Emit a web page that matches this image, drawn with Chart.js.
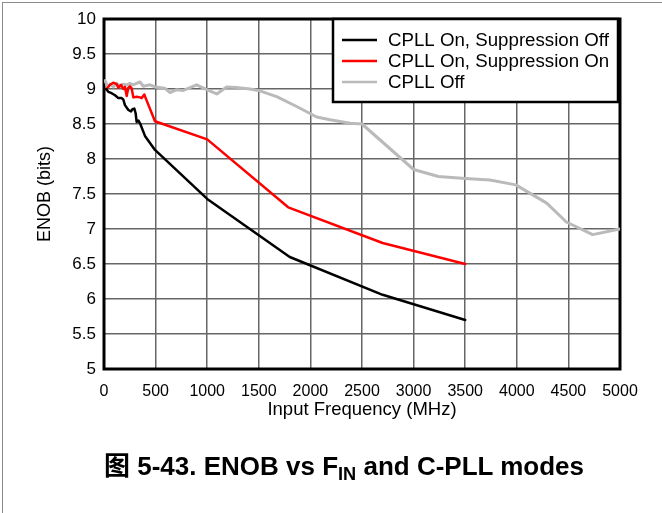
<!DOCTYPE html>
<html>
<head>
<meta charset="utf-8">
<script src="https://cdn.jsdelivr.net/npm/chart.js@4"></script>
<style>
html, body { margin: 0; padding: 0; background: #fff; }
#wrap { position: relative; width: 662px; height: 513px; overflow: hidden; }
#frame { position: absolute; left: 2px; top: 2px; width: 720px; height: 600px;
  border-left: 1px solid #8c8c8c; border-top: 1px solid #8c8c8c; }
#chart { position: absolute; left: 0; top: 0; }
#title { position: absolute; left: 0; width: 688px; top: 445px; text-align: center;
  font: bold 26px "Liberation Sans", "Noto Sans CJK SC", sans-serif; color: #000; white-space: nowrap; }
#title sub { font-size: 70%; vertical-align: -0.3em; line-height: 0; }
</style>
</head>
<body>
<div id="wrap">
  <div id="frame"></div>
  <canvas id="chart" width="662" height="513"></canvas>
  <div id="title">图 5-43. ENOB vs F<sub>IN</sub> and C-PLL modes</div>
</div>
<script>
// --- Data ---
const seriesNames = ['CPLL On, Suppression Off', 'CPLL On, Suppression On', 'CPLL Off'];
const seriesColors = ['#000000', '#ff0000', '#bababa'];

const offFreq = [20, 42, 74, 107, 139, 171, 187, 203, 236, 262, 275, 294, 307, 316, 333, 349, 397, 494, 1000, 1800, 2700, 3500];
const offEnob = [9.0, 8.96, 8.94, 8.91, 8.87, 8.87, 8.85, 8.77, 8.70, 8.68, 8.71, 8.72, 8.65, 8.53, 8.55, 8.51, 8.33, 8.13, 7.43, 6.6, 6.06, 5.70];

const onFreq = [26, 58, 90, 123, 139, 165, 187, 203, 220, 236, 252, 268, 284, 316, 349, 365, 391, 404, 494, 1000, 1785, 2700, 3500];
const onEnob = [9.0, 9.06, 9.09, 9.07, 9.02, 9.06, 9.0, 9.03, 8.9, 9.02, 9.04, 9.01, 8.88, 8.89, 8.88, 8.87, 8.92, 8.87, 8.54, 8.28, 7.31, 6.8, 6.5];

const cpllOffFreq = [10, 36, 58, 90, 123, 155, 187, 220, 252, 284, 316, 349, 381, 446, 494, 591, 640, 704, 769, 898, 995, 1092, 1189, 1285, 1415, 1495, 1673, 1867, 2061, 2190, 2384, 2500, 3000, 3240, 3500, 3740, 3990, 4290, 4480, 4735, 5000];
const cpllOffEnob = [9.12, 9.03, 9.07, 9.03, 9.08, 9.04, 9.07, 9.06, 9.08, 9.06, 9.08, 9.10, 9.04, 9.06, 9.03, 9.01, 8.95, 8.99, 8.98, 9.06, 8.99, 8.93, 9.03, 9.02, 9.0, 8.98, 8.89, 8.75, 8.6, 8.56, 8.51, 8.5, 7.85, 7.75, 7.72, 7.7, 7.63, 7.37, 7.1, 6.92, 7.0];

const xMin = 0, xMax = 5000, xStep = 500;
const yMin = 5, yMax = 10, yStep = 0.5;

function points(xs, ys) {
  return xs.map((x, i) => ({x: x, y: ys[i]}));
}

// --- Plugins ---
const plotFrame = {
  id: 'plotFrame',
  beforeDatasetsDraw(chart) {
    const {ctx, chartArea: a} = chart;
    ctx.save();
    ctx.strokeStyle = '#000';
    ctx.lineWidth = 3;
    ctx.strokeRect(a.left, a.top, a.right - a.left, a.bottom - a.top);
    ctx.restore();
  }
};

const boxLegend = {
  id: 'boxLegend',
  afterDatasetsDraw(chart) {
    const {ctx, chartArea: a} = chart;
    const w = 285, h = 83;
    const x0 = a.right - w - 2, y0 = a.top;
    ctx.save();
    ctx.fillStyle = '#fff';
    ctx.fillRect(x0, y0, w, h);
    ctx.strokeStyle = '#000';
    ctx.lineWidth = 2.5;
    ctx.strokeRect(x0, y0, w, h);
    ctx.font = '18.7px "Liberation Sans", Arial, sans-serif';
    ctx.textBaseline = 'middle';
    ctx.fillStyle = '#000';
    chart.data.datasets.forEach((ds, i) => {
      const y = y0 + 21 + i * 21;
      ctx.strokeStyle = ds.borderColor;
      ctx.lineWidth = 2.5;
      ctx.beginPath();
      ctx.moveTo(x0 + 9, y);
      ctx.lineTo(x0 + 44, y);
      ctx.stroke();
      ctx.fillText(ds.label, x0 + 55, y + 1);
    });
    ctx.restore();
  }
};

// --- Chart ---
const lineDefaults = {fill: false, pointRadius: 0, tension: 0, borderJoinStyle: 'round', borderCapStyle: 'round'};

new Chart(document.getElementById('chart'), {
  type: 'line',
  data: {
    datasets: [
      Object.assign({label: seriesNames[0], data: points(offFreq, offEnob), borderColor: seriesColors[0], borderWidth: 2.5}, lineDefaults),
      Object.assign({label: seriesNames[1], data: points(onFreq, onEnob), borderColor: seriesColors[1], borderWidth: 2.5}, lineDefaults),
      Object.assign({label: seriesNames[2], data: points(cpllOffFreq, cpllOffEnob), borderColor: seriesColors[2], borderWidth: 3}, lineDefaults),
    ]
  },
  options: {
    responsive: false,
    animation: false,
    layout: {padding: {left: 0, right: 42, top: 19, bottom: 84}},
    plugins: {legend: {display: false}, tooltip: {enabled: false}, title: {display: false}},
    scales: {
      x: {
        type: 'linear', min: xMin, max: xMax,
        afterFit: s => { s.height = 60; },
        ticks: {stepSize: xStep, padding: 13, color: '#000', maxRotation: 0, autoSkip: false,
          font: {family: '"Liberation Sans", Arial, sans-serif', size: 16},
          callback: v => String(v)},
        grid: {color: '#666', lineWidth: 1.5, drawTicks: false},
        border: {display: false},
        title: {display: true, text: 'Input Frequency (MHz)', color: '#000', padding: {top: 0, bottom: 8},
          font: {family: '"Liberation Sans", Arial, sans-serif', size: 18.5}}
      },
      y: {
        type: 'linear', min: yMin, max: yMax,
        afterFit: s => { s.width = 104; },
        ticks: {stepSize: yStep, padding: 8, color: '#000',
          font: {family: '"Liberation Sans", Arial, sans-serif', size: 17},
          callback: v => String(v)},
        grid: {color: '#666', lineWidth: 1.5, drawTicks: false},
        border: {display: false},
        title: {display: true, text: 'ENOB (bits)', color: '#000', padding: {top: 34, bottom: 0},
          font: {family: '"Liberation Sans", Arial, sans-serif', size: 18}}
      }
    }
  },
  plugins: [plotFrame, boxLegend]
});
</script>
</body>
</html>
